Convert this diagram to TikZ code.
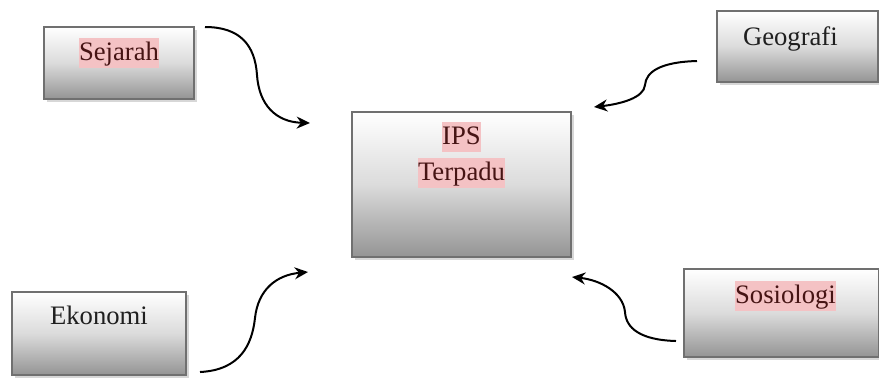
\documentclass[tikz,border=0pt]{standalone}
\usepackage{fontspec}
\setmainfont{Liberation Serif}
\usepackage{xcolor}
\definecolor{boxgray}{RGB}{112,112,112}
\definecolor{hlpink}{RGB}{244,194,196}
\definecolor{hltext}{RGB}{70,20,20}
\usetikzlibrary{arrows.meta,positioning,shadows}
\tikzset{
	box/.style  = {rectangle,draw=boxgray,line width=0.7pt,
		top color=white,bottom color=black!42,middle color=black!14,
		drop shadow={shadow xshift=1.3pt,shadow yshift=-1.3pt,
			fill=black!35,opacity=0.45}},
	lbl/.style  = {inner sep=0pt,text height=10.2pt,text depth=3.3pt,
		font=\fontsize{12}{14}\selectfont,text=black!88},
	hl/.style   = {lbl,fill=hlpink,text=hltext},
	arr/.style  = {-{Stealth[length=6pt,width=5.4pt]},line width=0.9pt,black},
}
\begin{document}
\begin{tikzpicture}[x=0.45pt,y=-0.45pt]
	\useasboundingbox (0,0) rectangle (879,377);
	%% Kotak
	\node (ipsbox) [box,minimum width=98.6pt,minimum height=65.3pt] at (461.5,184.5) {};
	\node (sej) [box,minimum width=67.5pt,minimum height=32.4pt] at (119,63) {};
	\node (geo) [box,minimum width=72.5pt,minimum height=32pt] at (797.5,46.5) {};
	\node (eko) [box,minimum width=78.3pt,minimum height=37.4pt] at (99,333.5) {};
	\node (sos) [box,minimum width=87.8pt,minimum height=39.6pt] at (781.5,313) {};
	
	%% Teks
	\node (ips)     [hl,below=4.5pt of ipsbox.north] {IPS};
	\node (terpadu) [hl,below=2.25pt of ips] {Terpadu};
	\node (sejtxt)  [hl,below=5pt of sej.north] {Sejarah};
	\node (geotxt)  [lbl,below=5.4pt of geo.north,xshift=-3.2pt] {Geografi};
	\node (ekotxt)  [lbl,below=4.6pt of eko.north] {Ekonomi};
	\node (sostxt)  [hl,below=5.4pt of sos.north,xshift=1.8pt] {Sosiologi};
	
	%% Panah
	\coordinate (sejA) at (205,27);  \coordinate (sejB) at (310,123);
	\coordinate (geoA) at (697,61);  \coordinate (geoB) at (594,107);
	\coordinate (ekoA) at (200,372); \coordinate (ekoB) at (308,272);
	\coordinate (sosA) at (676,341); \coordinate (sosB) at (572,277);
	\draw[arr](sejA) .. controls (240,27) and (255,45) .. (257,75)
		.. controls (259,105) and (276,122) .. (sejB);
	\draw[arr](geoA) .. controls (660,62) and (646,72) .. (645,85)
		.. controls (644,98) and (620,104) .. (geoB);
	\draw[arr](ekoA) .. controls (240,370) and (252,345) .. (255,318)
		.. controls (258,290) and (276,275) .. (ekoB);
	\draw[arr](sosA) .. controls (640,340) and (626,328) .. (625,312)
		.. controls (623,292) and (600,280) .. (sosB);
\end{tikzpicture}
\end{document}
